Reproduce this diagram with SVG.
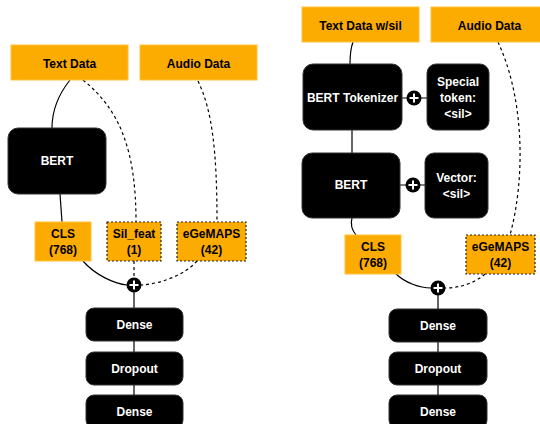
<svg xmlns="http://www.w3.org/2000/svg" width="540" height="424" viewBox="0 0 540 424">
<style>
.org{fill:#FCAB00;stroke:#FFC23A;stroke-width:1}
.orgd{fill:#FCAB00;stroke:#222;stroke-width:1.2;stroke-dasharray:2,2}
.blk{fill:#000;stroke:#333;stroke-width:1}
.t{font-family:"Liberation Sans",Arial,sans-serif;font-size:12px;font-weight:bold;text-anchor:middle}
.tw{font-family:"Liberation Sans",Arial,sans-serif;font-size:12px;font-weight:bold;text-anchor:middle;fill:#fff}
.ln{fill:none;stroke:#000;stroke-width:1.2}
.dl{fill:none;stroke:#000;stroke-width:1.2;stroke-dasharray:3,3}
.pc{fill:#000}
.pl{stroke:#fff;stroke-width:2;fill:none}
</style>
<defs>
<g id="plus"><circle r="7.5" class="pc"/><path d="M-4.5,0H4.5M0,-4.5V4.5" class="pl"/></g>
</defs>
<g id="connectors">
<path class="ln" d="M70,80 C58,95 52,110 52,128"/>
<path class="dl" d="M83,80 C120,110 136,150 136,222"/>
<path class="dl" d="M198,81 C212,110 217,150 217,222"/>
<path class="ln" d="M60,194 L62,222"/>
<path class="ln" d="M83,261 C95,275 115,284 127,285"/>
<path class="dl" d="M134,261 L134,278"/>
<path class="dl" d="M197,261 C185,275 160,284 141,285"/>
<path class="ln" d="M134,292 L134,308 M134,341 L134,352 M134,385 L134,395"/>
<path class="ln" d="M353,42 C350,50 350,56 350,64"/>
<path class="ln" d="M352,130 L352,153"/>
<path class="ln" d="M352,218 C350,225 352,230 356,235"/>
<path class="ln" d="M402,98 L427,98 M400,185 L425,185"/>
<path class="dl" d="M498,42 C525,100 525,180 510,235"/>
<path class="ln" d="M395,273 C405,283 420,288 431,288"/>
<path class="dl" d="M485,274 C475,283 460,288 445,288"/>
<path class="ln" d="M438,295 L438,309 M438,342 L438,352 M438,385 L438,395"/>
</g>
<g id="left-text-data"><rect class="org" x="11" y="45" width="117" height="35"/><text class="t" x="69.5" y="68">Text Data</text></g>
<g id="left-audio-data"><rect class="org" x="140" y="45" width="117" height="35"/><text class="t" x="198.5" y="68">Audio Data</text></g>
<g id="left-bert"><rect class="blk" x="8" y="128" width="98" height="66" rx="10"/><text class="tw" x="57" y="165">BERT</text></g>
<g id="left-cls"><rect class="org" x="35" y="222" width="56" height="39"/><text class="t" x="63" y="238">CLS</text><text class="t" x="63" y="254">(768)</text></g>
<g id="left-silfeat"><rect class="orgd" x="107" y="222" width="54" height="39"/><text class="t" x="134" y="238">Sil_feat</text><text class="t" x="134" y="254">(1)</text></g>
<g id="left-egemaps"><rect class="orgd" x="177" y="222" width="69" height="39"/><text class="t" x="211.5" y="238">eGeMAPS</text><text class="t" x="211.5" y="254">(42)</text></g>
<g id="left-plus"><use href="#plus" x="134" y="285"/></g>
<g id="left-dense1"><rect class="blk" x="86" y="308" width="97" height="33" rx="8"/><text class="tw" x="134.5" y="329">Dense</text></g>
<g id="left-dropout"><rect class="blk" x="86" y="352" width="97" height="33" rx="8"/><text class="tw" x="134.5" y="373">Dropout</text></g>
<g id="left-dense2"><rect class="blk" x="86" y="395" width="97" height="33" rx="8"/><text class="tw" x="134.5" y="416">Dense</text></g>
<g id="right-text-data"><rect class="org" x="302" y="7" width="117" height="35"/><text class="t" x="360.5" y="30">Text Data w/sil</text></g>
<g id="right-audio-data"><rect class="org" x="431" y="7" width="117" height="35"/><text class="t" x="489.5" y="30">Audio Data</text></g>
<g id="right-tokenizer"><rect class="blk" x="303" y="64" width="99" height="66" rx="10"/><text class="tw" x="352.5" y="102">BERT Tokenizer</text></g>
<g id="right-plus1"><use href="#plus" x="414" y="98"/></g>
<g id="right-special"><rect class="blk" x="427" y="64" width="62" height="66" rx="9"/><text class="tw" x="458" y="86">Special</text><text class="tw" x="458" y="102">token:</text><text class="tw" x="458" y="118">&lt;sil&gt;</text></g>
<g id="right-bert"><rect class="blk" x="302" y="153" width="98" height="65" rx="10"/><text class="tw" x="351" y="189">BERT</text></g>
<g id="right-plus2"><use href="#plus" x="413" y="185"/></g>
<g id="right-vector"><rect class="blk" x="425" y="153" width="63" height="65" rx="9"/><text class="tw" x="456.5" y="182">Vector:</text><text class="tw" x="456.5" y="198">&lt;sil&gt;</text></g>
<g id="right-cls"><rect class="org" x="345" y="235" width="56" height="39"/><text class="t" x="373" y="251">CLS</text><text class="t" x="373" y="267">(768)</text></g>
<g id="right-egemaps"><rect class="orgd" x="466" y="235" width="69" height="39"/><text class="t" x="500.5" y="251">eGeMAPS</text><text class="t" x="500.5" y="267">(42)</text></g>
<g id="right-plus3"><use href="#plus" x="438" y="288"/></g>
<g id="right-dense1"><rect class="blk" x="389" y="309" width="98" height="33" rx="8"/><text class="tw" x="438" y="330">Dense</text></g>
<g id="right-dropout"><rect class="blk" x="389" y="352" width="98" height="33" rx="8"/><text class="tw" x="438" y="373">Dropout</text></g>
<g id="right-dense2"><rect class="blk" x="389" y="395" width="98" height="33" rx="8"/><text class="tw" x="438" y="416">Dense</text></g>
</svg>
